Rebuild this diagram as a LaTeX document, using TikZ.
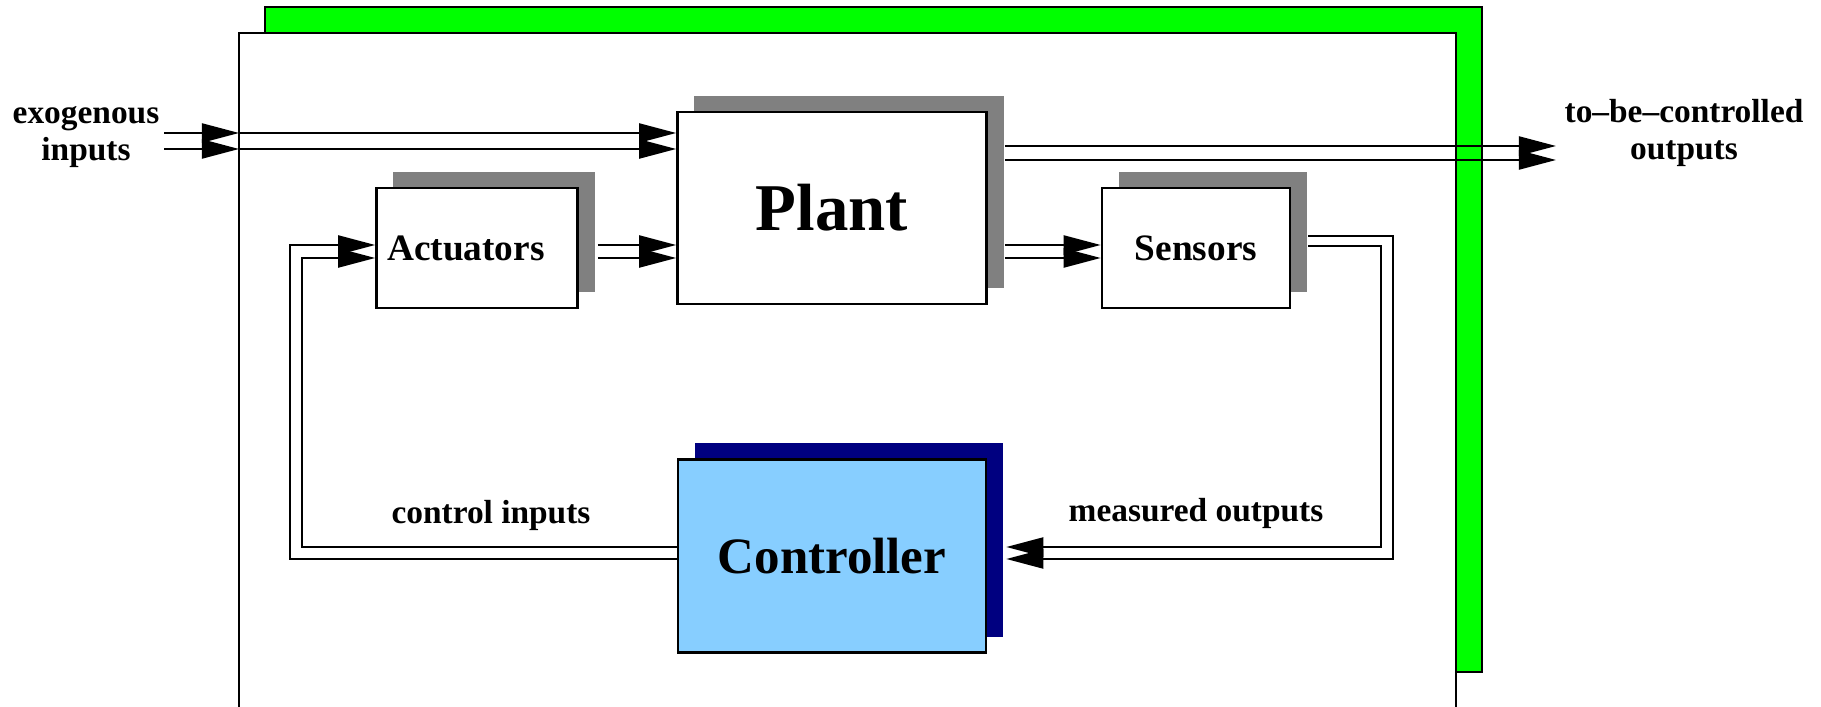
\documentclass[tikz,border=0pt]{standalone}
\usepackage{fontspec}
\setmainfont{Liberation Serif}
\usetikzlibrary{
  arrows.meta,
  positioning,
  calc,
  shadows
}
\definecolor{figgray}{HTML}{808080}
\definecolor{fignavy}{HTML}{000080}
\definecolor{figblue}{HTML}{87CEFF}
\definecolor{figgreen}{HTML}{00FF00}

\begin{document}
\begin{tikzpicture}[
  x=0.01cm, y=-0.01cm,
  block/.style={draw, line width=0.7pt, fill=white, inner sep=0pt,
    font=\bfseries\fontsize{10.6}{12}\selectfont,
    general shadow={fill=#1, shadow xshift=0.17cm, shadow yshift=0.16cm}},
  block/.default=figgray,
  wire/.style={line width=0.6pt, -{Triangle[length=0.37cm, width=0.19cm]}},
  tag/.style={font=\bfseries\fontsize{9.5}{10.5}\selectfont, align=center, inner sep=0pt}
]
  \useasboundingbox (0,0) rectangle (1821,707);

  % system frame
  \filldraw[fill=figgreen, line width=0.7pt] (265,7) rectangle (1482,672);
  \filldraw[fill=white, line width=0.7pt] (239,707) -- (239,33) -- (1456,33) -- (1456,707);

  % blocks
  \node[block, minimum width=3.09cm, minimum height=1.92cm,
    font=\bfseries\fontsize{19}{22}\selectfont] (plant) at (832,208) {\raisebox{-0.04cm}{Plant}};
  \node[block, minimum width=2.01cm, minimum height=1.2cm] (act) at (477,248) {\hspace*{-0.22cm}Actuators};
  \node[block, minimum width=1.88cm, minimum height=1.2cm] (sens) at (1196,248) {Sensors};
  \node[block=fignavy, fill=figblue, minimum width=3.08cm, minimum height=1.93cm,
    font=\bfseries\fontsize{14.5}{17}\selectfont] (ctrl) at (832,556) {Controller};

  % labels
  \node[tag] (exo) at (86,137) {exogenous\\inputs};
  \node[tag] (tbc) at (1684,133) {to--be--controlled\\outputs};
  \node[tag] (cin) at (491,515) {control inputs};
  \node[tag] (mout) at (1196,513) {measured outputs};

  % free ends and bus lines
  \coordinate (exin) at (164,141);
  \coordinate (gate) at (239,141);
  \coordinate (outend) at (1556,153);
  \coordinate (lbus) at (296,400);
  \coordinate (rbus) at (1387,400);

  % double connectors
  \foreach \dy in {-8,8} {
    \draw[wire] ($(exin)+(0,\dy)$) -- ($(gate)+(0,\dy)$);
    \draw[wire] ($(gate)+(0,\dy)$) -- ($(gate -| plant.west)+(0,\dy)$);
  }
  \foreach \dy in {-7,7}
    \draw[wire] ($(plant.east |- outend)+(17,\dy)$) -- ($(outend)+(0,\dy)$);
  \foreach \dy in {-3,10}
    \draw[wire] ($(act.east)+(19,\dy)$) -- ($(act.east -| plant.west)+(0,\dy)$);
  \foreach \dy in {-3,10}
    \draw[wire] ($(plant.east |- sens.west)+(17,\dy)$) -- ($(sens.west)+(0,\dy)$);

  % feedback loop
  \draw[wire] ($(sens.east)+(17,-12)$) -| ($(rbus)+(6,0)$) |- ($(ctrl.east)+(19,3)$);
  \draw[wire] ($(sens.east)+(17,-2)$) -| ($(rbus)+(-6,0)$) |- ($(ctrl.east)+(19,-9)$);
  \draw[wire] ($(ctrl.west)+(0,3)$) -| ($(lbus)+(-6,0)$) |- ($(act.west)+(0,-3)$);
  \draw[wire] ($(ctrl.west)+(0,-9)$) -| ($(lbus)+(6,0)$) |- ($(act.west)+(0,10)$);

\end{tikzpicture}
\end{document}
